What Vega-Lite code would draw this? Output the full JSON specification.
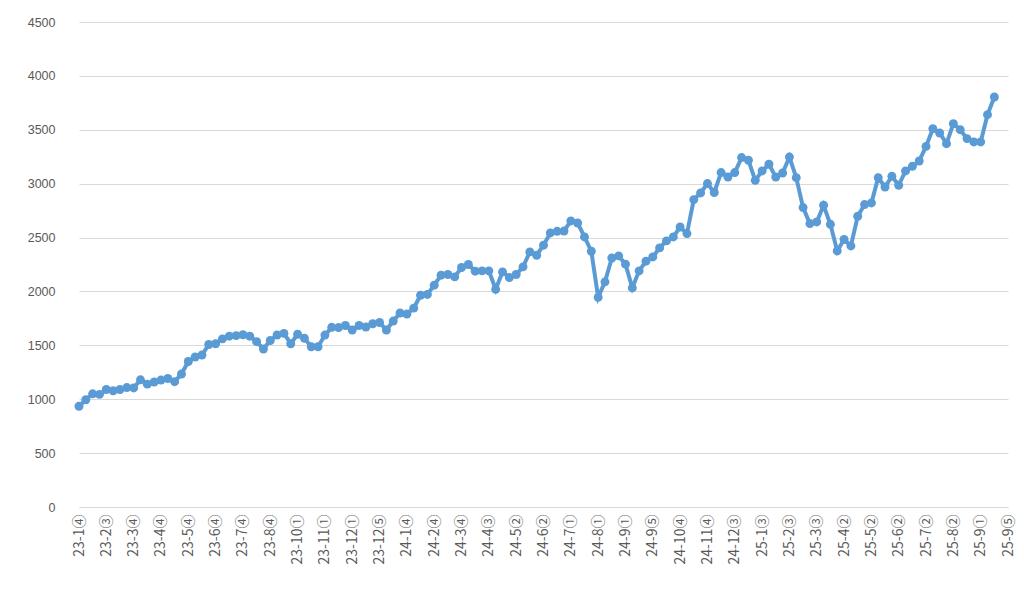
{
  "$schema": "https://vega.github.io/schema/vega-lite/v6.json",
  "width": 929,
  "height": 485,
  "autosize": {"type": "none"},
  "padding": {"left": 79, "top": 22, "right": 16, "bottom": 83},
  "background": "white",
  "config": {"view": {"stroke": null}, "font": "Noto Sans CJK KR"},
  "data": {"values": [
    {"week": "23-1④", "value": 935},
    {"week": "23-1⑤", "value": 995},
    {"week": "23-2①", "value": 1050},
    {"week": "23-2②", "value": 1045},
    {"week": "23-2③", "value": 1090},
    {"week": "23-2④", "value": 1078},
    {"week": "23-3②", "value": 1090},
    {"week": "23-3③", "value": 1108},
    {"week": "23-3④", "value": 1105},
    {"week": "23-4①", "value": 1180},
    {"week": "23-4②", "value": 1140},
    {"week": "23-4③", "value": 1160},
    {"week": "23-4④", "value": 1178},
    {"week": "23-5①", "value": 1192},
    {"week": "23-5②", "value": 1163},
    {"week": "23-5③", "value": 1234},
    {"week": "23-5④", "value": 1350},
    {"week": "23-6①", "value": 1392},
    {"week": "23-6②", "value": 1410},
    {"week": "23-6③", "value": 1508},
    {"week": "23-6④", "value": 1515},
    {"week": "23-7①", "value": 1560},
    {"week": "23-7②", "value": 1585},
    {"week": "23-7③", "value": 1590},
    {"week": "23-7④", "value": 1598},
    {"week": "23-8①", "value": 1585},
    {"week": "23-8②", "value": 1534},
    {"week": "23-8③", "value": 1466},
    {"week": "23-8④", "value": 1545},
    {"week": "23-9①", "value": 1596},
    {"week": "23-9②", "value": 1611},
    {"week": "23-9④", "value": 1515},
    {"week": "23-10①", "value": 1603},
    {"week": "23-10②", "value": 1565},
    {"week": "23-10③", "value": 1487},
    {"week": "23-10④", "value": 1487},
    {"week": "23-11①", "value": 1595},
    {"week": "23-11②", "value": 1667},
    {"week": "23-11③", "value": 1665},
    {"week": "23-11④", "value": 1684},
    {"week": "23-12①", "value": 1642},
    {"week": "23-12②", "value": 1684},
    {"week": "23-12③", "value": 1670},
    {"week": "23-12④", "value": 1700},
    {"week": "23-12⑤", "value": 1712},
    {"week": "24-1①", "value": 1642},
    {"week": "24-1②", "value": 1725},
    {"week": "24-1③", "value": 1800},
    {"week": "24-1④", "value": 1790},
    {"week": "24-2①", "value": 1845},
    {"week": "24-2②", "value": 1965},
    {"week": "24-2③", "value": 1972},
    {"week": "24-2④", "value": 2058},
    {"week": "24-3①", "value": 2151},
    {"week": "24-3②", "value": 2157},
    {"week": "24-3③", "value": 2135},
    {"week": "24-3④", "value": 2222},
    {"week": "24-3⑤", "value": 2250},
    {"week": "24-4①", "value": 2188},
    {"week": "24-4②", "value": 2191},
    {"week": "24-4③", "value": 2191},
    {"week": "24-4④", "value": 2020},
    {"week": "24-4⑤", "value": 2181},
    {"week": "24-5①", "value": 2129},
    {"week": "24-5②", "value": 2157},
    {"week": "24-5③", "value": 2228},
    {"week": "24-5④", "value": 2367},
    {"week": "24-6①", "value": 2336},
    {"week": "24-6②", "value": 2429},
    {"week": "24-6③", "value": 2543},
    {"week": "24-6④", "value": 2558},
    {"week": "24-6⑤", "value": 2560},
    {"week": "24-7①", "value": 2654},
    {"week": "24-7②", "value": 2635},
    {"week": "24-7③", "value": 2506},
    {"week": "24-7④", "value": 2373},
    {"week": "24-8①", "value": 1945},
    {"week": "24-8②", "value": 2089},
    {"week": "24-8③", "value": 2310},
    {"week": "24-8④", "value": 2330},
    {"week": "24-9①", "value": 2253},
    {"week": "24-9②", "value": 2033},
    {"week": "24-9③", "value": 2191},
    {"week": "24-9④", "value": 2281},
    {"week": "24-9⑤", "value": 2320},
    {"week": "24-10①", "value": 2404},
    {"week": "24-10②", "value": 2469},
    {"week": "24-10③", "value": 2506},
    {"week": "24-10④", "value": 2598},
    {"week": "24-11①", "value": 2537},
    {"week": "24-11②", "value": 2852},
    {"week": "24-11③", "value": 2914},
    {"week": "24-11④", "value": 3001},
    {"week": "24-11⑤", "value": 2918},
    {"week": "24-12①", "value": 3103},
    {"week": "24-12②", "value": 3062},
    {"week": "24-12③", "value": 3103},
    {"week": "24-12④", "value": 3242},
    {"week": "25-1①", "value": 3217},
    {"week": "25-1②", "value": 3031},
    {"week": "25-1③", "value": 3118},
    {"week": "25-1④", "value": 3180},
    {"week": "25-2①", "value": 3062},
    {"week": "25-2②", "value": 3099},
    {"week": "25-2③", "value": 3247},
    {"week": "25-2④", "value": 3056},
    {"week": "25-3①", "value": 2778},
    {"week": "25-3②", "value": 2630},
    {"week": "25-3③", "value": 2645},
    {"week": "25-3④", "value": 2800},
    {"week": "25-3⑤", "value": 2623},
    {"week": "25-4①", "value": 2376},
    {"week": "25-4②", "value": 2482},
    {"week": "25-4③", "value": 2422},
    {"week": "25-4④", "value": 2698},
    {"week": "25-5①", "value": 2806},
    {"week": "25-5②", "value": 2821},
    {"week": "25-5③", "value": 3056},
    {"week": "25-5④", "value": 2969},
    {"week": "25-6①", "value": 3068},
    {"week": "25-6②", "value": 2985},
    {"week": "25-6③", "value": 3118},
    {"week": "25-6④", "value": 3161},
    {"week": "25-7①", "value": 3210},
    {"week": "25-7②", "value": 3346},
    {"week": "25-7③", "value": 3510},
    {"week": "25-7④", "value": 3470},
    {"week": "25-8①", "value": 3371},
    {"week": "25-8②", "value": 3557},
    {"week": "25-8③", "value": 3501},
    {"week": "25-8④", "value": 3418},
    {"week": "25-8⑤", "value": 3387},
    {"week": "25-9①", "value": 3387},
    {"week": "25-9②", "value": 3640},
    {"week": "25-9③", "value": 3804},
    {"week": "25-9④", "value": null},
    {"week": "25-9⑤", "value": null}
  ]},
  "mark": {
    "type": "line",
    "color": "#5b9bd5",
    "strokeWidth": 4,
    "invalid": "break-paths-show-domains",
    "point": {"filled": true, "size": 80, "color": "#5b9bd5"}
  },
  "encoding": {
    "x": {
      "field": "week",
      "type": "ordinal",
      "sort": null,
      "scale": {"type": "point", "padding": 0},
      "axis": {
        "title": null,
        "values": ["23-1④", "23-2③", "23-3④", "23-4④", "23-5④", "23-6④", "23-7④", "23-8④", "23-10①", "23-11①", "23-12①", "23-12⑤", "24-1④", "24-2④", "24-3④", "24-4③", "24-5②", "24-6②", "24-7①", "24-8①", "24-9①", "24-9⑤", "24-10④", "24-11④", "24-12③", "25-1③", "25-2③", "25-3③", "25-4②", "25-5②", "25-6②", "25-7②", "25-8②", "25-9①", "25-9⑤"],
        "labelAngle": -90,
        "labelFontSize": 14,
        "labelFont": "Noto Sans CJK KR",
        "labelColor": "#595959",
        "labelOverlap": false,
        "ticks": false,
        "grid": false,
        "domainColor": "#d9d9d9",
        "domainWidth": 1,
        "labelPadding": 7
      }
    },
    "y": {
      "field": "value",
      "type": "quantitative",
      "scale": {"domain": [0, 4500], "nice": false, "zero": true},
      "axis": {
        "title": null,
        "values": [0, 500, 1000, 1500, 2000, 2500, 3000, 3500, 4000, 4500],
        "format": "d",
        "domain": false,
        "ticks": false,
        "grid": true,
        "gridColor": "#d9d9d9",
        "gridWidth": 1,
        "labelColor": "#595959",
        "labelFontSize": 12.5,
        "labelFont": "Liberation Sans",
        "labelPadding": 24
      }
    }
  }
}
